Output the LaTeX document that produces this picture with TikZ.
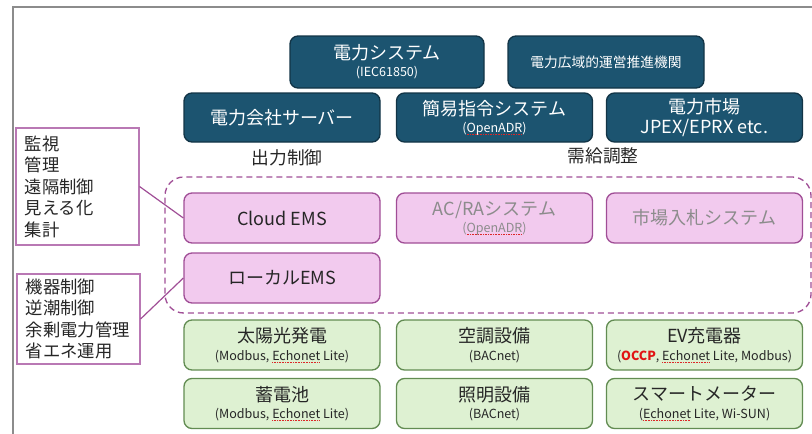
\documentclass[tikz,border=0pt]{standalone}
\usepackage{fontspec}
\setmainfont{Noto Sans CJK JP}
\definecolor{navyfill}{RGB}{28,84,112}
\definecolor{navyline}{RGB}{18,52,70}
\definecolor{pinkfill}{RGB}{242,202,238}
\definecolor{pinkline}{RGB}{160,78,150}
\definecolor{greenfill}{RGB}{222,241,210}
\definecolor{greenline}{RGB}{98,140,82}
\definecolor{annline}{RGB}{185,120,180}
\definecolor{frameclr}{RGB}{140,140,140}
\definecolor{txt}{RGB}{38,38,38}
\definecolor{dimtxt}{RGB}{140,140,140}
\definecolor{spellred}{RGB}{220,40,40}
\definecolor{occpred}{RGB}{225,20,20}
\newsavebox\wavebox
\newcommand\rwave[1]{\sbox\wavebox{#1}\rlap{\lower1.8pt\hbox to \wd\wavebox{\color{spellred}\xleaders\hbox{\rule{0.7pt}{0.45pt}\hskip0.5pt}\hfill}}\usebox\wavebox}
\newcommand\subt{\fontsize{9.4}{11}\selectfont}
\tikzset{
  basebox/.style={rounded corners=6pt, line width=1pt, minimum width=147pt,
    minimum height=37.5pt, inner sep=0pt, align=center,
    font=\fontsize{13.5}{15.5}\selectfont},
  navybox/.style={basebox, fill=navyfill, draw=navyline, text=white, minimum height=36.75pt},
  pinkbox/.style={basebox, fill=pinkfill, draw=pinkline, text=txt},
  greenbox/.style={basebox, fill=greenfill, draw=greenline, text=txt},
  annbox/.style={draw=annline, line width=0.8pt, fill=white, text=txt, align=left,
    text width=79pt, inner xsep=6.6pt, inner ysep=0pt, minimum width=92.25pt,
    font=\fontsize{13}{16.1}\selectfont},
  lbl/.style={text=txt, font=\fontsize{13.3}{15}\selectfont, inner sep=0pt},
  conn/.style={draw=pinkline, line width=0.9pt},
  groupbox/.style={draw=pinkline, dashed, dash pattern=on 4.5pt off 3pt, line width=1pt,
    rounded corners=14pt, inner sep=0pt}
}
\begin{document}
\begin{tikzpicture}[x=0.75pt, y=-0.75pt]
\useasboundingbox (0,0) rectangle (812,433);
\draw[frameclr, line width=1.5pt] (13,7) rectangle (840,460);

% top row
\node[navybox, minimum width=145.5pt, minimum height=39pt] (sys) at (387,62)
  {電力システム\\[-2.5pt]{\subt (IEC61850)}};
\node[navybox, minimum width=147pt, minimum height=39pt, font=\fontsize{10.3}{12}\selectfont] (occto) at (606,62)
  {電力広域的運営推進機関};
% second row
\node[navybox] (util) at (282,117.5) {電力会社サーバー};
\node[navybox] (dr) at (494.5,117.5) {簡易指令システム\\[-2.5pt]{\subt (\rwave{OpenADR})}};
\node[navybox] (mkt) at (704.5,117.5) {電力市場\\[-1pt]JPEX/EPRX etc.};

\node[lbl] (outctl) at (287,158) {出力制御};
\node[lbl] (balance) at (603,156) {需給調整};

% dashed group
\node[groupbox, minimum width=484.5pt, minimum height=102pt] (grp) at (488,245) {};

% pink row
\node[pinkbox] (cloud) at (282,218) {Cloud EMS};
\node[pinkbox, text=dimtxt] (acra) at (494.5,218) {AC/RAシステム\\[-2.5pt]{\subt (\rwave{OpenADR})}};
\node[pinkbox, text=dimtxt] (bid) at (704.5,218) {市場入札システム};
\node[pinkbox] (local) at (282,278) {ローカルEMS};

% green rows
\node[greenbox] (pv) at (282,345) {太陽光発電\\[-2.5pt]{\subt (Modbus, \rwave{Echonet} Lite)}};
\node[greenbox] (hvac) at (494.5,345) {空調設備\\[-2.5pt]{\subt (BACnet)}};
\node[greenbox] (ev) at (704.5,345) {EV充電器\\[-2.5pt]{\subt (\textcolor{occpred}{\bfseries OCCP}, \rwave{Echonet} Lite, Modbus)}};
\node[greenbox] (bat) at (282,403.5) {蓄電池\\[-2.5pt]{\subt (Modbus, \rwave{Echonet} Lite)}};
\node[greenbox] (light) at (494.5,403.5) {照明設備\\[-2.5pt]{\subt (BACnet)}};
\node[greenbox] (meter) at (704.5,403.5) {スマートメーター\\[-2.5pt]{\subt (\rwave{Echonet} Lite, Wi-SUN)}};

% annotation boxes
\node[annbox, minimum height=87.75pt] (ann1) at (77.5,186.5) {監視\\管理\\遠隔制御\\見える化\\集計};
\node[annbox, minimum height=67.5pt] (ann2) at (78.5,319) {機器制御\\逆潮制御\\余剰電力管理\\省エネ運用};

\draw[conn] (ann1.east) -- (cloud.west);
\draw[conn] (ann2.east) -- (local.west);
\end{tikzpicture}
\end{document}
